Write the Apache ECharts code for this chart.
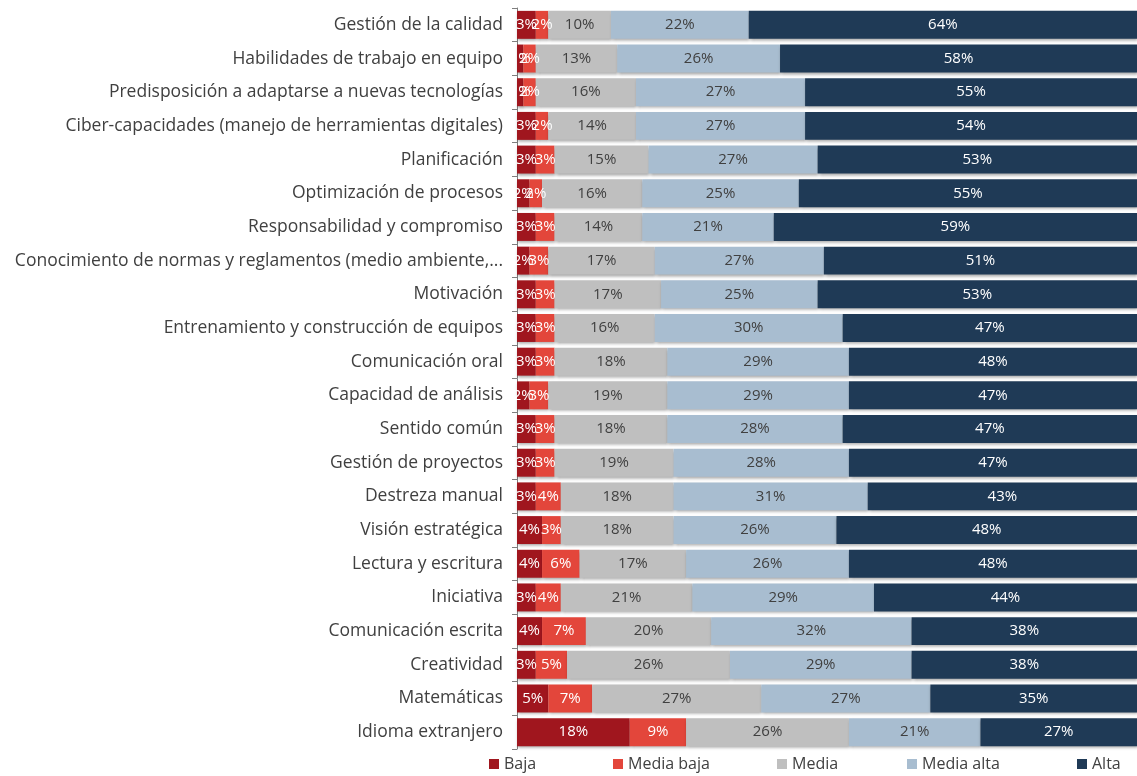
<!DOCTYPE html>
<html>
<head>
<meta charset="utf-8">
<script src="https://cdn.jsdelivr.net/npm/echarts@6/dist/echarts.min.js"></script>
<style>
html,body{margin:0;padding:0;background:#fff;}
#chart{width:1137px;height:776px;}
</style>
</head>
<body>
<div id="chart"></div>
<script>
const categories = [
  "Gestión de la calidad",
  "Habilidades de trabajo en equipo",
  "Predisposición a adaptarse a nuevas tecnologías",
  "Ciber-capacidades (manejo de herramientas digitales)",
  "Planificación",
  "Optimización de procesos",
  "Responsabilidad y compromiso",
  "Conocimiento de normas y reglamentos (medio ambiente,...",
  "Motivación",
  "Entrenamiento y construcción de equipos",
  "Comunicación oral",
  "Capacidad de análisis",
  "Sentido común",
  "Gestión de proyectos",
  "Destreza manual",
  "Visión estratégica",
  "Lectura y escritura",
  "Iniciativa",
  "Comunicación escrita",
  "Creatividad",
  "Matemáticas",
  "Idioma extranjero"
];
const baja       = [3, 1, 1, 3, 3, 2, 3, 2, 3, 3, 3, 2, 3, 3, 3, 4, 4, 3, 4, 3, 5, 18];
const mediaBaja  = [2, 2, 2, 2, 3, 2, 3, 3, 3, 3, 3, 3, 3, 3, 4, 3, 6, 4, 7, 5, 7, 9];
const media      = [10, 13, 16, 14, 15, 16, 14, 17, 17, 16, 18, 19, 18, 19, 18, 18, 17, 21, 20, 26, 27, 26];
const mediaAlta  = [22, 26, 27, 27, 27, 25, 21, 27, 25, 30, 29, 29, 28, 28, 31, 26, 26, 29, 32, 29, 27, 21];
const alta       = [64, 58, 55, 54, 53, 55, 59, 51, 53, 47, 48, 47, 47, 47, 43, 48, 48, 44, 38, 38, 35, 27];
const seriesNames = ["Baja", "Media baja", "Media", "Media alta", "Alta"];
const xRange = [0, 99];

const colors = ["#A0161E", "#E3463B", "#BFBFBF", "#A8BDD0", "#1F3A56"];
const labelColors = ["#ffffff", "#ffffff", "#404040", "#404040", "#ffffff"];
const legendLeft = [489, 613, 777, 907, 1077];
const seriesData = [baja, mediaBaja, media, mediaAlta, alta];

const chart = echarts.init(document.getElementById('chart'));
chart.setOption({
  animation: false,
  textStyle: { fontFamily: 'Open Sans' },
  grid: { left: 517, right: 0, top: 8, bottom: 27, containLabel: false },
  legend: seriesNames.map((name, i) => ({
    top: 756,
    left: legendLeft[i],
    itemWidth: 10,
    itemHeight: 10,
    itemGap: 6,
    icon: 'rect',
    padding: [0, 0, 0, 0],
    textStyle: { fontSize: 16, color: '#404040', fontFamily: 'Open Sans' },
    data: [name]
  })),
  xAxis: {
    type: 'value',
    min: xRange[0],
    max: xRange[1],
    show: false
  },
  yAxis: {
    type: 'category',
    inverse: true,
    data: categories,
    axisLine: { show: true, lineStyle: { color: '#7f7f7f' } },
    axisTick: { show: true, length: 5, lineStyle: { color: '#7f7f7f' } },
    axisLabel: { fontSize: 17.5, color: '#404040', margin: 14, fontFamily: 'Open Sans' }
  },
  series: seriesNames.map((name, i) => ({
    name: name,
    type: 'bar',
    stack: 'total',
    barCategoryGap: '17%',
    data: seriesData[i],
    itemStyle: {
      color: colors[i],
      shadowColor: 'rgba(0,0,0,0.35)',
      shadowBlur: 3,
      shadowOffsetX: 1,
      shadowOffsetY: 2
    },
    label: {
      show: true,
      position: 'inside',
      formatter: p => p.value + '%',
      color: labelColors[i],
      fontSize: 15,
      fontFamily: 'Open Sans'
    }
  }))
});
</script>
</body>
</html>
